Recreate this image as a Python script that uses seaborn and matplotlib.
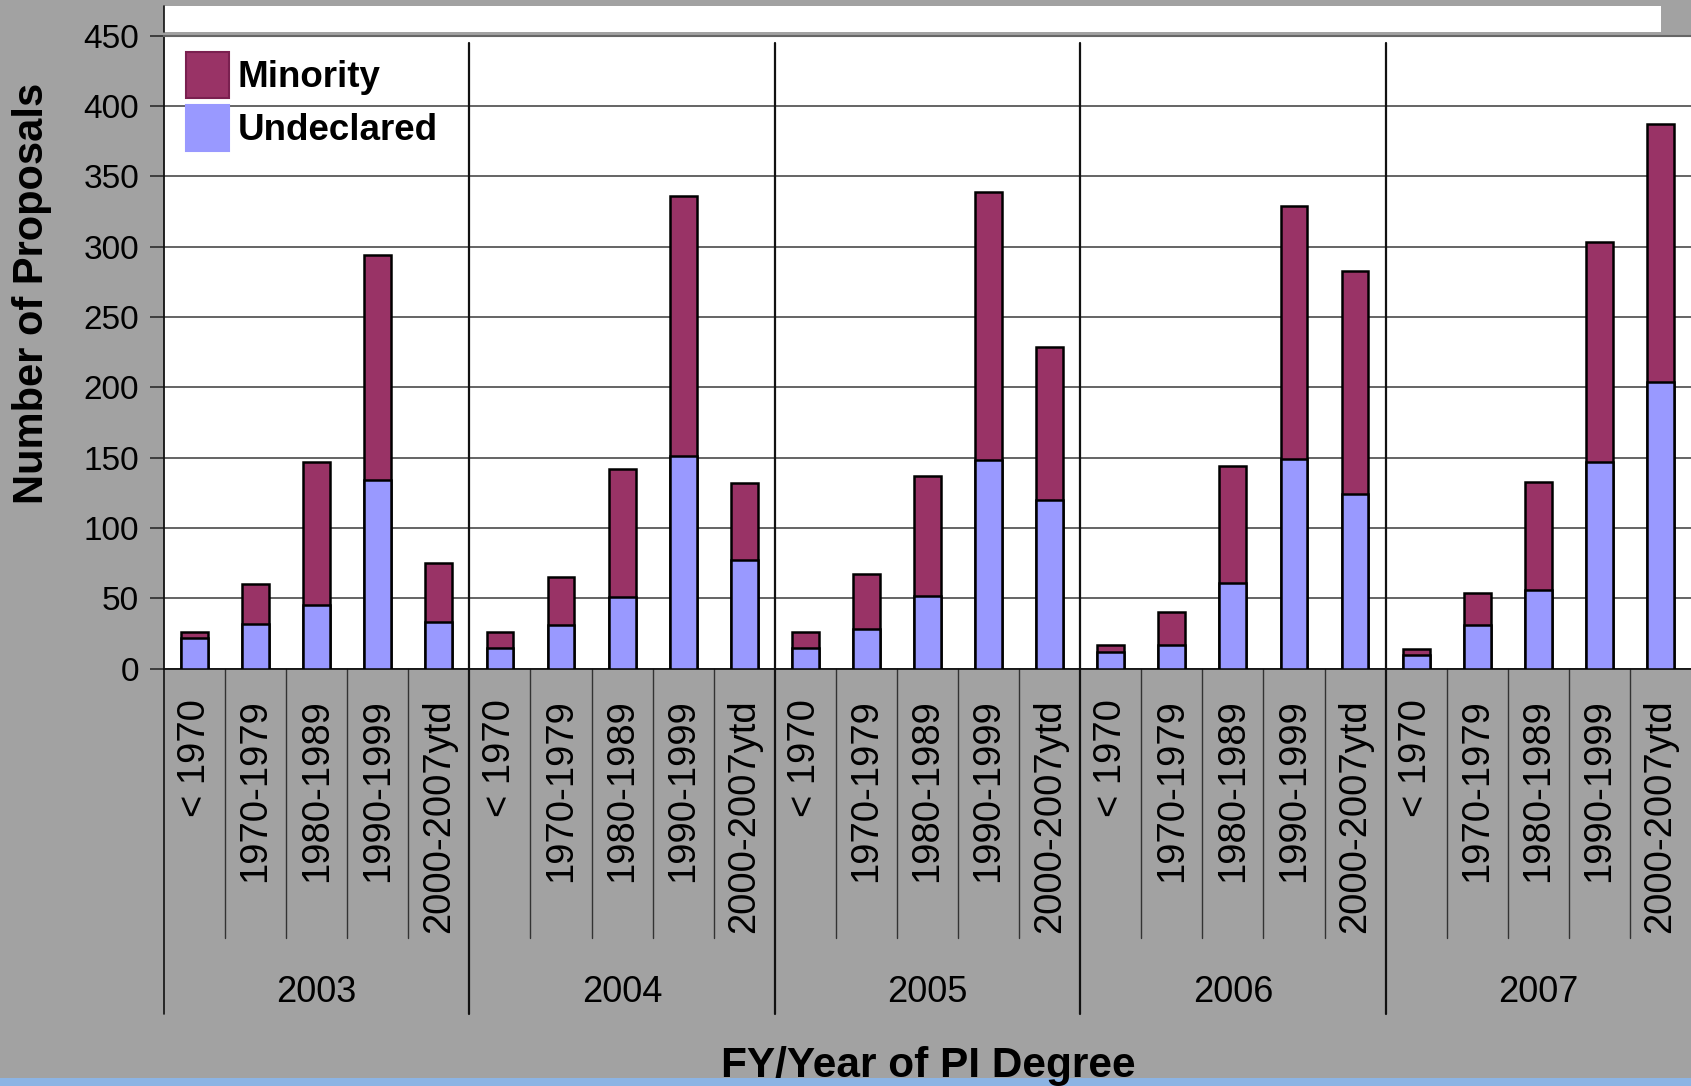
import matplotlib
matplotlib.use('Agg')
import matplotlib.pyplot as plt
import seaborn as sns
import pandas as pd
from matplotlib.patches import Patch, Rectangle
from matplotlib.lines import Line2D

# ---------------- data ----------------
years = ['2003', '2004', '2005', '2006', '2007']
degree_periods = ['< 1970', '1970-1979', '1980-1989', '1990-1999', '2000-2007ytd']

# values per bar, in order year by year, period by period
undeclared = [22, 32, 45, 134, 33,
              15, 31, 51, 151, 77,
              15, 28, 52, 148, 120,
              12, 17, 61, 149, 124,
              10, 31, 56, 147, 204]
minority = [4, 28, 102, 160, 42,
            11, 34, 91, 185, 55,
            11, 39, 85, 191, 109,
            5, 23, 83, 180, 159,
            4, 23, 77, 156, 183]

y_ticks = [0, 50, 100, 150, 200, 250, 300, 350, 400, 450]

MAROON = '#993366'
BLUE = '#9999FF'
BG = '#a2a2a2'

slots = [f'{y} {p}' for y in years for p in degree_periods]
df = pd.DataFrame({
    'slot': slots,
    'year': [y for y in years for _ in degree_periods],
    'period': [p for _ in years for p in degree_periods],
    'Undeclared': undeclared,
    'Minority': minority,
})
df['total'] = df['Undeclared'] + df['Minority']

# ---------------- figure ----------------
sns.set_style('white')
plt.rcParams['font.family'] = ['Liberation Sans', 'DejaVu Sans']
plt.rcParams['text.color'] = 'black'
plt.rcParams['xtick.color'] = 'black'
plt.rcParams['ytick.color'] = 'black'
plt.rcParams['xtick.labelcolor'] = 'black'
plt.rcParams['ytick.labelcolor'] = 'black'

W, H = 1691, 1086
fig = plt.figure(figsize=(W / 100, H / 100), dpi=100)
fig.patch.set_facecolor(BG)

ax_l, ax_r, ax_t, ax_b = 164, 1691, 35.6, 668.7
ax = fig.add_axes([ax_l / W, 1 - ax_b / H, (ax_r - ax_l) / W, (ax_b - ax_t) / H])
ax.set_facecolor('white')

sns.barplot(data=df, x='slot', y='total', order=slots, color=MAROON,
            saturation=1, width=0.44, edgecolor='black', linewidth=1.8,
            errorbar=None, ax=ax, zorder=3)
sns.barplot(data=df, x='slot', y='Undeclared', order=slots, color=BLUE,
            saturation=1, width=0.44, edgecolor='black', linewidth=1.8,
            errorbar=None, ax=ax, zorder=4)

n = len(slots)
ax.set_xlim(-0.5, n - 0.5)
ax.set_ylim(0, 450)
ax.set_yticks(y_ticks)
ax.set_yticklabels([str(v) for v in y_ticks], fontsize=24)
ax.yaxis.grid(True, color='#3a3a3a', linewidth=1.1)
ax.set_axisbelow(True)
ax.set_xlabel('')
ax.set_ylabel('')

ax.set_xticks(range(n))
ax.set_xticklabels(df['period'].tolist(), rotation=90, fontsize=27.5,
                   ha='center', va='top')
ax.tick_params(axis='x', length=0, pad=22)
ax.tick_params(axis='y', length=10, width=1.1, color='#222', pad=8,
               left=True)

ax.spines['right'].set_visible(False)
ax.spines['top'].set_color('#666')
ax.spines['top'].set_linewidth(1.5)
ax.spines['left'].set_color('#111')
ax.spines['left'].set_linewidth(1.3)
ax.spines['bottom'].set_color('#111')
ax.spines['bottom'].set_linewidth(1.3)

xt = ax.get_xaxis_transform()
cat_low = -(938 - ax_b) / (ax_b - ax_t)
year_low = -(1014 - ax_b) / (ax_b - ax_t)
year_lab_y = -(992 - ax_b) / (ax_b - ax_t)

# separators below the axis and year dividers inside the plot
ax.plot([-0.5, -0.5], [0, year_low], transform=xt, clip_on=False,
        color='#111', lw=1.2)
for i in range(1, n):
    xb = i - 0.5
    if i % len(degree_periods) == 0:
        ax.plot([xb, xb], [0.988, year_low], transform=xt, clip_on=False,
                color='#111', lw=1.6, zorder=2)
    else:
        ax.plot([xb, xb], [0, cat_low], transform=xt, clip_on=False,
                color='#333', lw=1.0)

# year labels
k = len(degree_periods)
for j, yr in enumerate(years):
    ax.text(j * k + (k - 1) / 2, year_lab_y, yr, transform=xt, ha='center',
            va='center', fontsize=26, clip_on=False)

# axis titles
fig.text(928 / W, 1 - 1066 / H, 'FY/Year of PI Degree', ha='center',
         va='center', fontsize=30.5, fontweight='bold')
fig.text(32 / W, 1 - 293 / H, 'Number of Proposals', ha='center',
         va='center', rotation=90, fontsize=30, fontweight='bold')

# legend
handles = [Patch(facecolor=MAROON, edgecolor='#7a2050', linewidth=1.5),
           Patch(facecolor=BLUE, edgecolor=BLUE, linewidth=1.5)]
leg = ax.legend(handles, ['Minority', 'Undeclared'], loc='upper left',
                bbox_to_anchor=((185.5 - ax_l) / (ax_r - ax_l),
                                (ax_b - 51.8) / (ax_b - ax_t)),
                frameon=False, borderpad=0, borderaxespad=0,
                handlelength=1.17, handleheight=1.55, handletextpad=0.25,
                labelspacing=0.2, prop={'weight': 'bold', 'size': 26.5})

# top white strip and bottom blue strip of the slide
fig.patches.append(Rectangle((ax_l / W, 1 - 32 / H), (1661 - ax_l) / W, 26 / H,
                             transform=fig.transFigure, facecolor='white',
                             edgecolor='none', zorder=0))
fig.lines.append(Line2D([ax_l / W, ax_l / W], [1 - 32 / H, 1 - 6 / H],
                        transform=fig.transFigure, color='#111', lw=1.2))
fig.patches.append(Rectangle((0, 0), 1, 8 / H, transform=fig.transFigure,
                             facecolor='#8cb4e4', edgecolor='none', zorder=0))

fig.savefig('out.png', dpi=100, facecolor=fig.get_facecolor())
